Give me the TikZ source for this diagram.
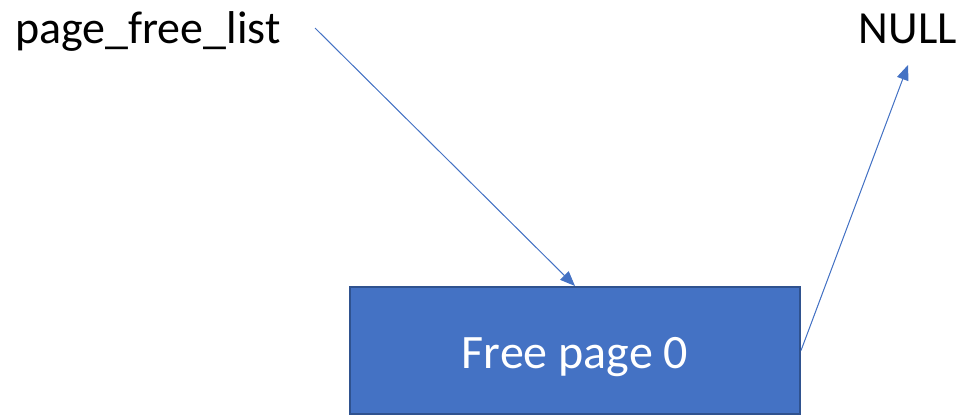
\documentclass[tikz,border=0pt]{standalone}
\usepackage{fontspec}
\setmainfont{Carlito}
\usetikzlibrary{arrows.meta}
\definecolor{boxblue}{HTML}{4472C4}
\definecolor{boxedge}{HTML}{2F528F}
\tikzset{
  lbl/.style={inner sep=0pt, font=\fontsize{46}{52}\selectfont, text=black},
  conn/.style={draw=boxblue, line width=1pt, -{Triangle[length=15pt,width=12pt]}, fill=boxblue},
  pagebox/.style={draw=boxedge, line width=2pt, fill=boxblue, minimum width=450pt, minimum height=127pt, inner sep=0pt},
  boxlbl/.style={inner sep=0pt, text=white, font=\fontsize{48}{54}\selectfont}
}
\begin{document}
\begin{tikzpicture}[x=1pt,y=-1pt]
\useasboundingbox (0,0) rectangle (967,415);
\node[lbl, anchor=base west] (pfl) at (15,43) {page\_free\_list};
\node[lbl, anchor=base east] (null) at (957,43) {NULL};
\node[pagebox] (box) at (575,350.5) {};
\node[boxlbl, anchor=base] (boxtxt) at (575,368) {Free page 0};
\coordinate (pflend) at (315,28);
\coordinate (nullend) at (908,65);
\draw[conn] (pflend) -- (box.north);
\draw[conn] (box.east) -- (nullend);
\end{tikzpicture}
\end{document}
